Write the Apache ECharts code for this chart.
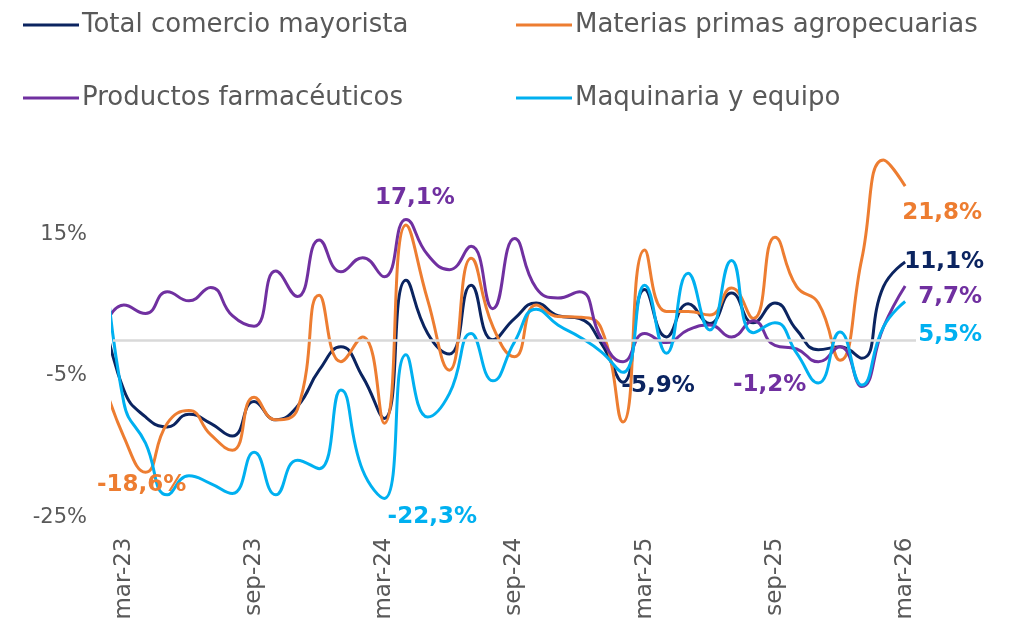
<!DOCTYPE html>
<html>
<head>
<meta charset="utf-8">
<script src="https://cdn.jsdelivr.net/npm/echarts@6/dist/echarts.min.js"></script>
<style>
html,body{margin:0;padding:0;background:#ffffff;}
#chart{width:1017px;height:630px;}
</style>
</head>
<body>
<div id="chart"></div>
<script>
// Months: the first one (feb-23) only enters the plot at its left edge
const months = ['feb-23','mar-23','abr-23','may-23','jun-23','jul-23','ago-23','sep-23','oct-23','nov-23','dic-23',
  'ene-24','feb-24','mar-24','abr-24','may-24','jun-24','jul-24','ago-24','sep-24','oct-24','nov-24','dic-24',
  'ene-25','feb-25','mar-25','abr-25','may-25','jun-25','jul-25','ago-25','sep-25','oct-25','nov-25','dic-25',
  'ene-26','feb-26','mar-26'];

const seriesNames = ['Total comercio mayorista','Materias primas agropecuarias','Productos farmacéuticos','Maquinaria y equipo'];

const totalComercio = [5.0, -7.0, -10.8, -12.2, -10.4, -11.7, -13.5, -8.6, -11.2, -9.3, -4.2, -0.9, -5.1, -11.0,
  8.5, 1.0, -1.9, 7.8, 0.1, 3.1, 5.3, 3.5, 3.1, -0.4, -5.9, 7.2, 0.5, 5.2, 2.4, 6.7, 2.5, 5.3, 1.5, -1.3, -0.9, -2.5, 7.6, 11.1];

const materiasPrimas = [-5.0, -13.6, -18.6, -11.7, -9.9, -13.3, -15.5, -8.0, -11.2, -9.7, 6.4, -3.0, 0.5, -11.7,
  16.3, 5.7, -4.2, 11.6, 2.0, -2.3, 5.0, 3.4, 3.3, 1.7, -11.5, 12.8, 4.1, 4.1, 3.6, 7.4, 3.1, 14.6, 7.6, 5.3, -2.8, 11.5, 25.5, 21.8];

const farmaceuticos = [1.2, 5.0, 3.8, 6.9, 5.6, 7.5, 3.5, 2.0, 9.8, 6.2, 14.2, 9.7, 11.7, 9.0,
  17.1, 12.1, 10.0, 13.3, 4.5, 14.4, 7.4, 6.0, 6.9, 0.3, -3.0, 1.0, -0.3, 1.5, 2.2, 0.5, 2.8, -0.7, -1.2, -3.0, -0.9, -6.5, 1.9, 7.7];

const maquinaria = [17.0, -8.8, -14.5, -21.8, -19.1, -20.2, -21.6, -15.8, -21.8, -16.9, -18.1, -7.0, -18.3, -22.3,
  -2.0, -10.8, -7.5, 1.0, -5.7, -0.2, 4.4, 2.2, 0.5, -1.6, -4.5, 7.8, -1.8, 9.5, 1.5, 11.3, 1.1, 2.5, -1.8, -6.0, 1.2, -6.3, 1.9, 5.5];

// Tick labels
const xTickLabels = months.slice(1);          // mar-23 ... mar-26
const yTicks = [-25, -5, 15];

const colors = ['#0B2460', '#ED7D31', '#7030A0', '#00B0F0'];
const FONT = 'DejaVu Sans';

const allData = [totalComercio, materiasPrimas, farmaceuticos, maquinaria];

// labelled points: month name -> label offset (style only)
const labelSpec = [
  { 'feb-25': [35, 4], 'mar-26': [39, 0] },
  { 'abr-23': [-4, 13], 'mar-26': [37, 27] },
  { 'abr-24': [9, -21], 'oct-25': [-27, 36], 'mar-26': [45, 11] },
  { 'mar-24': [48, 19], 'mar-26': [45, 33] }
];

function fmt(v) { return v.toFixed(1).replace('.', ',') + '%'; }

const series = allData.map((arr, s) => ({
  name: seriesNames[s],
  type: 'line',
  xAxisIndex: 1,
  smooth: 0.5,
  symbol: 'circle',
  symbolSize: 0.01,
  showSymbol: true,
  clip: true,
  z: 3,
  lineStyle: { color: colors[s], width: 3 },
  itemStyle: { color: colors[s] },
  emphasis: { disabled: true },
  data: arr.map((v, i) => {
    const m = months[i];
    const item = { value: [i - 1, v] };
    if (labelSpec[s][m]) {
      item.label = {
        show: true,
        position: 'inside',
        offset: labelSpec[s][m],
        formatter: p => fmt(p.value[1]),
        color: colors[s],
        fontFamily: FONT,
        fontWeight: 'bold',
        fontSize: 23
      };
    }
    return item;
  })
}));

// zero reference line
series.unshift({
  type: 'line',
  xAxisIndex: 1,
  data: [],
  z: 1,
  markLine: {
    silent: true,
    symbol: ['none', 'none'],
    label: { show: false },
    lineStyle: { color: '#D9D9D9', width: 2.5, type: 'solid' },
    data: [{ yAxis: 0 }]
  }
});

const legendPos = [[18, 7], [511, 7], [18, 80], [511, 80]];
const legends = seriesNames.map((n, i) => ({
  data: [n],
  left: legendPos[i][0],
  top: legendPos[i][1],
  icon: 'rect',
  itemWidth: 56,
  itemHeight: 3,
  selectedMode: false,
  textStyle: { fontFamily: FONT, fontSize: 26, color: '#595959', padding: [0, 0, 0, -2] }
}));

const chart = echarts.init(document.getElementById('chart'), null, { renderer: 'canvas' });
chart.setOption({
  animation: false,
  backgroundColor: '#ffffff',
  color: colors,
  legend: legends,
  grid: { left: 113, right: 101, top: 92.7, bottom: 112.5, containLabel: false, outerBoundsMode: 'none' },
  xAxis: [
    {
      type: 'category',
      data: xTickLabels,
      boundaryGap: true,
      position: 'bottom',
      axisLine: { show: false },
      axisTick: { show: false },
      splitLine: { show: false },
      axisLabel: { interval: 5, rotate: 90, margin: 20, fontFamily: FONT, fontSize: 23, color: '#595959' }
    },
    { type: 'value', min: -0.5, max: 36.5, show: false }
  ],
  yAxis: {
    type: 'value',
    min: yTicks[0],
    max: 35,
    interval: yTicks[1] - yTicks[0],
    axisLine: { show: false },
    axisTick: { show: false },
    splitLine: { show: false },
    axisLabel: {
      margin: 26,
      fontFamily: FONT,
      fontSize: 21,
      color: '#595959',
      formatter: v => (yTicks.indexOf(v) >= 0 ? v + '%' : '')
    }
  },
  series: series
});
</script>
</body>
</html>
